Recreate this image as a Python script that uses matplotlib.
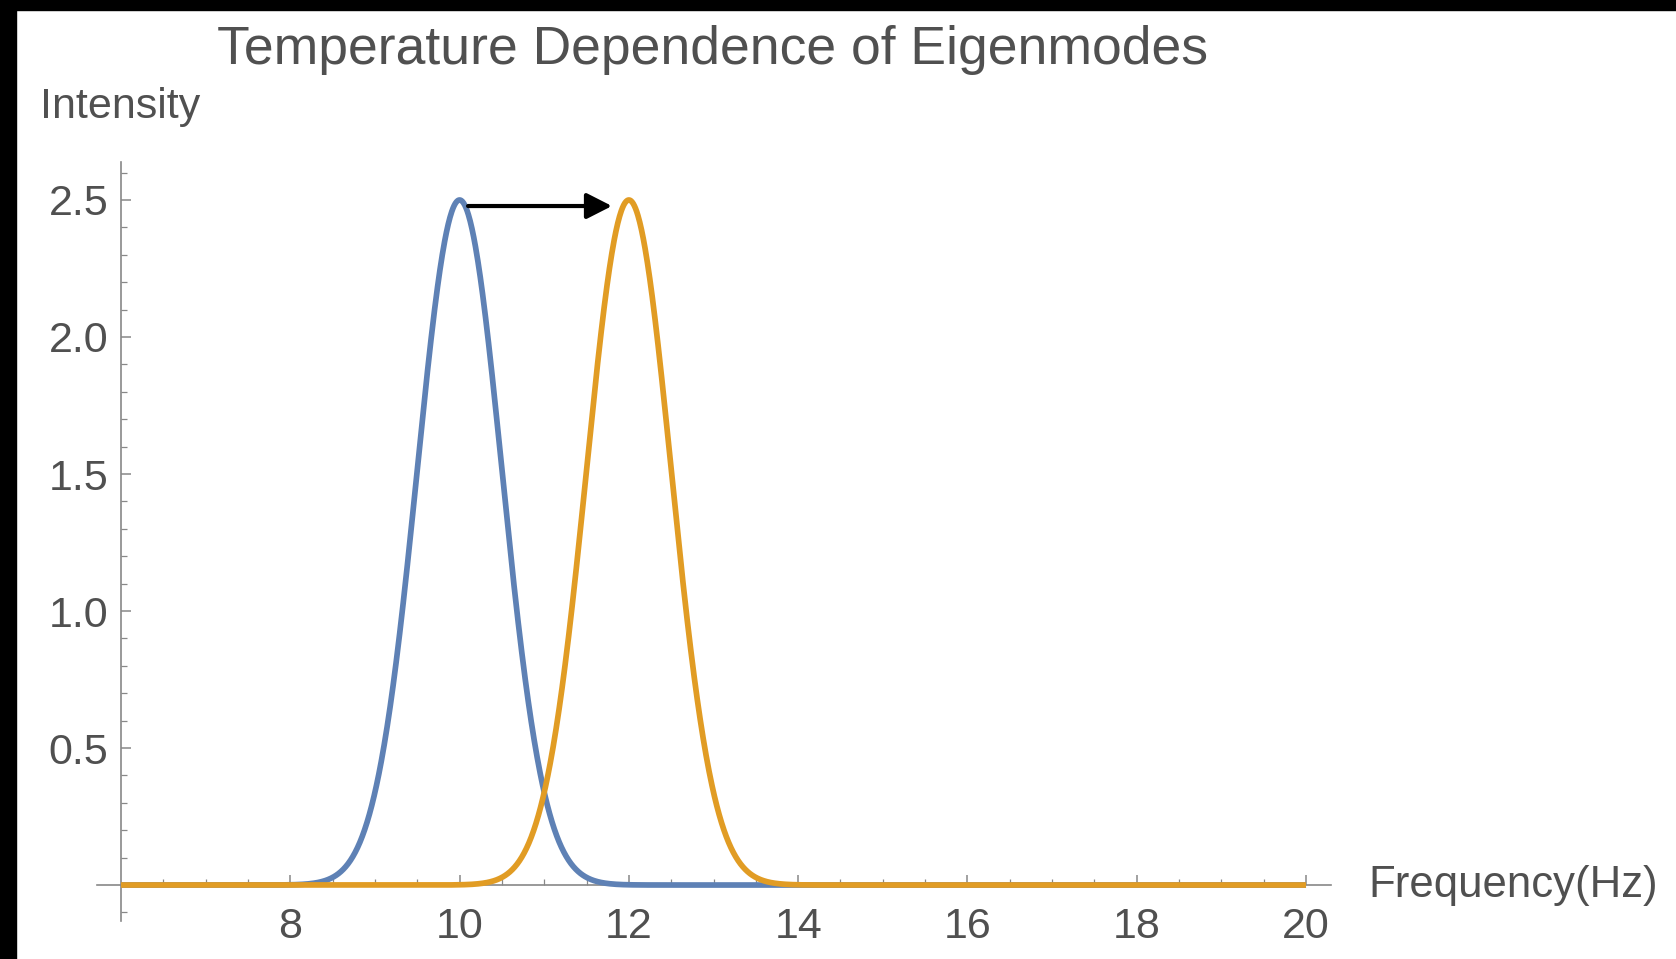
import numpy as np
import matplotlib
matplotlib.use('Agg')
import matplotlib.pyplot as plt
from matplotlib.ticker import FixedLocator

plt.rcParams['font.family'] = ['Liberation Sans', 'DejaVu Sans']

# peak parameters of the two eigenmodes
mode_names = ['low T', 'high T']
mode_centres = [10.0, 12.0]      # Hz
mode_heights = [2.5, 2.5]
mode_widths = [0.5, 0.5]         # gaussian sigma, Hz
mode_colors = ['#5E81B5', '#E19C24']

freq_range = (6.0, 20.0)
x_ticks = [8, 10, 12, 14, 16, 18, 20]
y_ticks = [0.5, 1.0, 1.5, 2.0, 2.5]
shift_from = 10.1
shift_to = 11.8
shift_level = 2.478

txt = '#505050'
axc = '#888888'

fig = plt.figure(figsize=(16.76, 9.59), dpi=100)
fig.patch.set_facecolor('white')
# dark frame strips on top and left
fig.patches.append(plt.Rectangle((0, 1 - 10/959), 1, 10/959, transform=fig.transFigure,
                                 color='black', zorder=0))
fig.patches.append(plt.Rectangle((0, 0), 16/1676, 1, transform=fig.transFigure,
                                 color='black', zorder=0))

ax = fig.add_axes([0.0520, 0.0200, 0.7525, 0.8286])
ax.set_xlim(5.6, 20.5)
ax.set_ylim(-0.2, 2.7)
ax.patch.set_alpha(0)

x = np.linspace(freq_range[0], freq_range[1], 2000)
for c, h, w, col in zip(mode_centres, mode_heights, mode_widths, mode_colors):
    ax.plot(x, h*np.exp(-(x - c)**2/(2*w**2)), color=col, lw=4.1,
            solid_capstyle='butt', zorder=3)

ax.annotate('', xy=(shift_to, shift_level), xytext=(shift_from, shift_level),
            arrowprops=dict(arrowstyle='-|>,head_length=0.55,head_width=0.28',
                            color='black', lw=3, mutation_scale=28,
                            shrinkA=0, shrinkB=0), zorder=4)

# mathematica style crossing axes
for s in ['top', 'right']:
    ax.spines[s].set_visible(False)
ax.spines['left'].set_position(('data', 6.0))
ax.spines['bottom'].set_position(('data', 0.0))
ax.spines['left'].set_bounds(-0.13, 2.64)
ax.spines['bottom'].set_bounds(5.72, 20.3)
for s in ['left', 'bottom']:
    ax.spines[s].set_color(axc)
    ax.spines[s].set_linewidth(1.2)

ax.xaxis.set_major_locator(FixedLocator(x_ticks))
ax.xaxis.set_minor_locator(FixedLocator(np.arange(6.5, 20.01, 0.5)))
ax.yaxis.set_major_locator(FixedLocator(y_ticks))
ax.yaxis.set_minor_locator(FixedLocator(np.arange(-0.1, 2.61, 0.1)))
ax.set_xticklabels([str(t) for t in x_ticks])
ax.set_yticklabels(['%.1f' % t for t in y_ticks])
ax.tick_params(which='both', direction='in', colors=axc, labelcolor=txt, labelsize=31)
ax.tick_params(which='major', length=7, width=1.1)
ax.tick_params(which='minor', length=4, width=0.9)
ax.tick_params(axis='x', which='major', pad=16)
ax.tick_params(axis='y', which='major', pad=9)

fig.text(0.425, 1 - 50/959, 'Temperature Dependence of Eigenmodes', ha='center', va='center',
         fontsize=38.5, color=txt)
fig.text(40/1676, 1 - 107/959, 'Intensity', ha='left', va='center', fontsize=31, color=txt)
fig.text(1368/1676, 1 - 886/959, 'Frequency(Hz)', ha='left', va='center', fontsize=31.5,
         color=txt)

fig.savefig('out.png', dpi=100, facecolor='white')
